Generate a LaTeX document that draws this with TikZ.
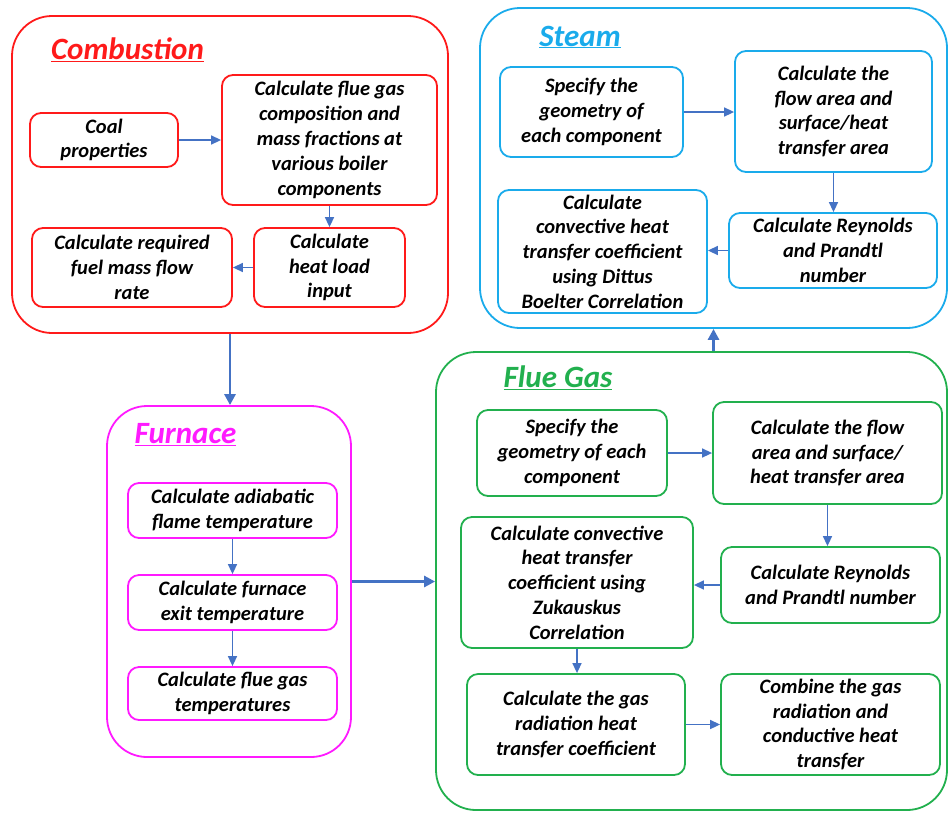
\documentclass[tikz,border=0pt]{standalone}
\usepackage{fontspec}
\setmainfont{Carlito}
\usetikzlibrary{arrows.meta,calc}

\definecolor{combred}{HTML}{FF1A1A}
\definecolor{steamblue}{HTML}{1AABEB}
\definecolor{fluegreen}{HTML}{22B04E}
\definecolor{furnmag}{HTML}{FF1AFF}
\definecolor{flowblue}{HTML}{4472C4}

\tikzset{
  group/.style={draw=#1, line width=1.8pt, rounded corners=40pt, inner sep=0pt},
  stepbox/.style={draw=#1, line width=1.8pt, rounded corners=11pt, align=center,
    inner sep=1pt, font=\fontsize{20.5}{24.8}\selectfont\bfseries\itshape},
  heading/.style={text=#1, font=\fontsize{31}{34}\selectfont\bfseries\itshape, inner sep=0pt},
  flow/.style={draw=flowblue, line width=1.5pt, -{Triangle[length=10pt,width=9pt]}},
  bigflow/.style={draw=flowblue, line width=2.8pt, -{Triangle[length=11pt,width=11pt]}},
}

\begin{document}
\begin{tikzpicture}[x=1pt,y=-1pt]
\useasboundingbox (0,0) rectangle (949,812);

% ---- Combustion ----
\node[group=combred, minimum width=436pt, minimum height=317pt] (comb) at (230,174.5) {};
\node[heading=combred] (combt) at (127.5,50) {\underline{Combustion}};
\node[stepbox=combred, minimum width=148pt, minimum height=54pt] (coal) at (104,140)
  {Coal\\properties};
\node[stepbox=combred, minimum width=215pt, minimum height=130pt] (comp) at (329.5,140)
  {Calculate flue gas\\composition and\\mass fractions at\\various boiler\\components};
\node[stepbox=combred, minimum width=151pt, minimum height=79pt] (heat) at (329.5,267.5)
  {Calculate\\heat load\\input};
\node[stepbox=combred, minimum width=200pt, minimum height=79pt] (fuel) at (132,267.5)
  {Calculate required\\fuel mass flow\\rate};
\draw[flow] (coal.east) -- (comp.west);
\draw[flow] (comp.south) -- (heat.north);
\draw[flow] (heat.west) -- (fuel.east);

% ---- Steam ----
\node[group=steamblue, minimum width=467pt, minimum height=320pt] (steam) at (713.5,168) {};
\node[heading=steamblue] (steamt) at (580,37) {\underline{Steam}};
\node[stepbox=steamblue, minimum width=183pt, minimum height=90pt] (sgeo) at (591.5,112)
  {Specify the\\geometry of\\each component};
\node[stepbox=steamblue, minimum width=197pt, minimum height=121pt] (sarea) at (833.5,111.5)
  {Calculate the\\flow area and\\surface/heat\\transfer area};
\node[stepbox=steamblue, minimum width=208pt, minimum height=75pt] (sre) at (833,250.5)
  {Calculate Reynolds\\and Prandtl\\number};
\node[stepbox=steamblue, minimum width=209pt, minimum height=123pt] (sconv) at (602.5,251.5)
  {Calculate\\convective heat\\transfer coefficient\\using Dittus\\Boelter Correlation};
\draw[flow] (sgeo.east) -- (sgeo.east -| sarea.west);
\draw[flow] (sarea.south) -- (sarea.south |- sre.north);
\draw[flow] (sre.west) -- (sre.west -| sconv.east);

% ---- Furnace ----
\node[group=furnmag, minimum width=244pt, minimum height=351pt] (furn) at (229,581.5) {};
\node[heading=furnmag] (furnt) at (185.5,435) {\underline{Furnace}};
\node[stepbox=furnmag, minimum width=209pt, minimum height=55pt] (adia) at (232.5,510.5)
  {Calculate adiabatic\\flame temperature};
\node[stepbox=furnmag, minimum width=209pt, minimum height=55pt] (fexit) at (232.5,602.5)
  {Calculate furnace\\exit temperature};
\node[stepbox=furnmag, minimum width=209pt, minimum height=53pt] (ftemp) at (232.5,693.5)
  {Calculate flue gas\\temperatures};
\draw[flow] (adia.south) -- (fexit.north);
\draw[flow] (fexit.south) -- (ftemp.north);

% ---- Flue Gas ----
\node[group=fluegreen, minimum width=511pt, minimum height=458pt] (flue) at (691.5,581) {};
\node[heading=fluegreen] (fluet) at (558,378) {\underline{Flue Gas}};
\node[stepbox=fluegreen, minimum width=190pt, minimum height=86pt] (ggeo) at (572,453)
  {Specify the\\geometry of each\\component};
\node[stepbox=fluegreen, minimum width=229pt, minimum height=102pt] (garea) at (827.5,453)
  {Calculate the flow\\area and surface/\\heat transfer area};
\node[stepbox=fluegreen, minimum width=219pt, minimum height=76pt] (gre) at (830.5,585)
  {Calculate Reynolds\\and Prandtl number};
\node[stepbox=fluegreen, minimum width=232pt, minimum height=131pt] (gconv) at (577,582.5)
  {Calculate convective\\heat transfer\\coefficient using\\Zukauskus\\Correlation};
\node[stepbox=fluegreen, minimum width=218pt, minimum height=101pt] (grad) at (576,724.5)
  {Calculate the gas\\radiation heat\\transfer coefficient};
\node[stepbox=fluegreen, minimum width=219pt, minimum height=101pt] (gcomb) at (830.5,724.5)
  {Combine the gas\\radiation and\\conductive heat\\transfer};
\draw[flow] (ggeo.east) -- (ggeo.east -| garea.west);
\draw[flow] (garea.south) -- (garea.south |- gre.north);
\draw[flow] (gre.west) -- (gre.west -| gconv.east);
\draw[flow] (gconv.south) -- (gconv.south |- grad.north);
\draw[flow] (grad.east) -- (gcomb.west);

% ---- links between stages ----
\draw[bigflow] (comb.south) -- (comb.south |- furn.north);
\draw[bigflow] (furn.east) -- (furn.east -| flue.west);
\draw[bigflow] (steam.south |- flue.north) -- (steam.south);
\end{tikzpicture}
\end{document}
